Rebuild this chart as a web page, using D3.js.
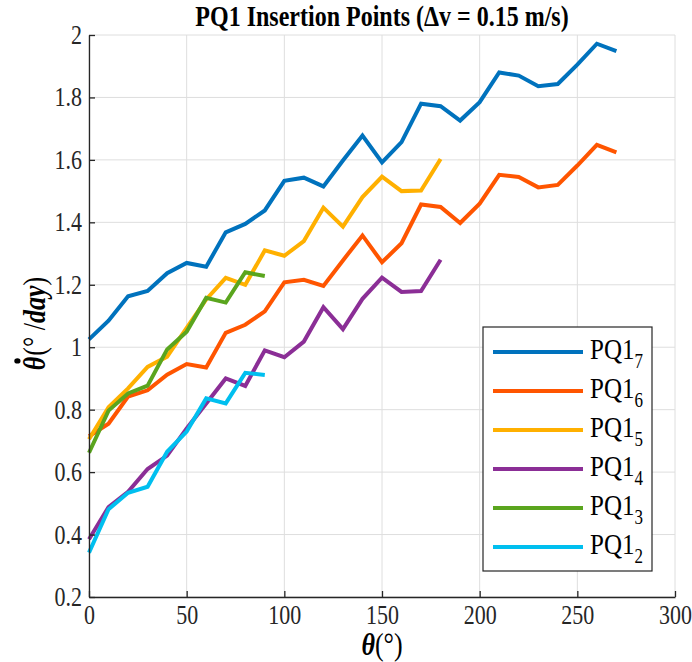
<!DOCTYPE html>
<html><head><meta charset="utf-8">
<script src="https://cdn.jsdelivr.net/npm/d3@7"></script>
<style>body{margin:0;background:#fff} svg{display:block}</style>
</head><body><svg id="chart" width="692" height="662"></svg>
<script>
// ---- data ----
const anglesLong  = [0,10,20,30,40,50,60,70,80,90,100,110,120,130,140,150,160,170,180,190,200,210,220,230,240,250,260,270];
const anglesMid   = [0,10,20,30,40,50,60,70,80,90,100,110,120,130,140,150,160,170,180];
const anglesShort = [0,10,20,30,40,50,60,70,80,90];

const pq1_7 = [1.025,1.085,1.163,1.18,1.237,1.27,1.258,1.368,1.395,1.438,1.533,1.543,1.515,1.598,1.678,1.592,1.657,1.78,1.772,1.726,1.785,1.88,1.87,1.836,1.843,1.905,1.972,1.948];
const pq1_6 = [0.715,0.755,0.842,0.862,0.912,0.946,0.935,1.046,1.072,1.115,1.208,1.216,1.196,1.278,1.358,1.272,1.333,1.457,1.449,1.398,1.46,1.552,1.545,1.512,1.52,1.582,1.648,1.624];
const pq1_5 = [0.705,0.808,0.868,0.937,0.97,1.062,1.153,1.222,1.2,1.31,1.293,1.34,1.447,1.386,1.481,1.546,1.5,1.502,1.603];
const pq1_4 = [0.385,0.488,0.537,0.61,0.653,0.74,0.82,0.9,0.876,0.99,0.968,1.018,1.128,1.058,1.155,1.223,1.177,1.18,1.28];
const pq1_3 = [0.662,0.797,0.852,0.877,0.993,1.05,1.158,1.143,1.24,1.228];
const pq1_2 = [0.342,0.481,0.534,0.553,0.665,0.73,0.836,0.82,0.918,0.911];

const seriesNames = ["7","6","5","4","3","2"];
const seriesColors = ["#0072BD","#FF5500","#FFB000","#8B2E96","#5AA51E","#00BFEF"];
const xTicks = [0,50,100,150,200,250,300];
const yTicks = [0.2,0.4,0.6,0.8,1,1.2,1.4,1.6,1.8,2];
const titleText = "PQ1 Insertion Points (\u0394v = 0.15 m/s)";

// ---- layout ----
const FONT = "'Liberation Serif','Times New Roman',serif";
const SY = 1.2;
const L = 89, R = 675, T = 35, B = 597;
const svg = d3.select("#chart");
const x = d3.scaleLinear().domain([0,300]).range([L,R]);
const y = d3.scaleLinear().domain([0.2,2]).range([B,T]);

const series = [
  {name: seriesNames[0], xs: anglesLong,  ys: pq1_7, color: seriesColors[0]},
  {name: seriesNames[1], xs: anglesLong,  ys: pq1_6, color: seriesColors[1]},
  {name: seriesNames[2], xs: anglesMid,   ys: pq1_5, color: seriesColors[2]},
  {name: seriesNames[3], xs: anglesMid,   ys: pq1_4, color: seriesColors[3]},
  {name: seriesNames[4], xs: anglesShort, ys: pq1_3, color: seriesColors[4]},
  {name: seriesNames[5], xs: anglesShort, ys: pq1_2, color: seriesColors[5]},
];

// grid
const grid = svg.append("g").attr("stroke","#dedede").attr("stroke-width",1);
grid.selectAll(".gx").data(xTicks).join("line")
  .attr("x1",d=>x(d)).attr("x2",d=>x(d)).attr("y1",T).attr("y2",B);
grid.selectAll(".gy").data(yTicks).join("line")
  .attr("y1",d=>y(d)).attr("y2",d=>y(d)).attr("x1",L).attr("x2",R);

// lines
const line = d3.line().x(d=>x(d[0])).y(d=>y(d[1]));
svg.append("g").selectAll("path").data(series).join("path")
  .attr("d", s => line(s.xs.map((a,i)=>[a,s.ys[i]])))
  .attr("fill","none").attr("stroke",s=>s.color)
  .attr("stroke-width",4).attr("stroke-linejoin","miter").attr("stroke-linecap","butt");

// axes
const TS = 22;
const xAxis = svg.append("g").attr("transform",`translate(0,${B})`)
  .call(d3.axisBottom(x).tickValues(xTicks).tickSize(-6).tickSizeOuter(0).tickPadding(8).tickFormat(d3.format("d")));
const yAxis = svg.append("g").attr("transform",`translate(${L},0)`)
  .call(d3.axisLeft(y).tickValues(yTicks).tickSize(-6).tickSizeOuter(0).tickPadding(7).tickFormat(d=>String(+d.toFixed(1))));
[xAxis,yAxis].forEach(g=>{
  g.select(".domain").attr("stroke","#262626").attr("stroke-width",1.3);
  g.selectAll(".tick line").attr("stroke","#262626").attr("stroke-width",1.3);
  g.selectAll(".tick text").attr("fill","#262626").style("font-family",FONT).style("font-size",TS+"px");
});
xAxis.selectAll(".tick text").attr("y", 8/SY).attr("transform",`scale(1,${SY})`);
yAxis.selectAll(".tick text").attr("transform",`scale(1,${SY})`);

function stretchedText(px, py){
  return svg.append("g").attr("transform",`translate(${px},${py}) scale(1,${SY})`)
    .append("text").style("font-family",FONT).attr("fill","#000");
}

// title
stretchedText((L+R)/2, 26).attr("text-anchor","middle").style("font-size","24px").style("font-weight","bold")
  .text(titleText);

// x label
const xl = stretchedText((L+R)/2, 655).attr("text-anchor","middle").style("font-size","26px");
xl.append("tspan").style("font-style","italic").style("font-weight","bold").text("\u03B8");
xl.append("tspan").text("(\u00B0)");

// y label (rotated), built from two pieces so the dot can sit over theta
const ylG = svg.append("g").attr("transform",`translate(45,324) scale(${SY},1) rotate(-90)`);
const thetaT = ylG.append("text").style("font-family",FONT).style("font-size","26px")
  .style("font-style","italic").style("font-weight","bold").text("\u03B8");
const restT = ylG.append("text").style("font-family",FONT).style("font-size","26px");
restT.append("tspan").text("(\u00B0 /");
restT.append("tspan").style("font-style","italic").style("font-weight","bold").text("day");
restT.append("tspan").text(")");
const w1 = thetaT.node().getComputedTextLength();
const w2 = restT.node().getComputedTextLength();
const x0 = -(w1+w2)/2;
thetaT.attr("x", x0);
restT.attr("x", x0 + w1 + 1);
ylG.append("circle").attr("cx", x0 + w1/2 + 2.5).attr("cy", -23).attr("r", 2.6).attr("fill","#000");

// legend
const LG = {x0:483, y0:327, x1:652, y1:571};
svg.append("rect").attr("x",LG.x0).attr("y",LG.y0).attr("width",LG.x1-LG.x0).attr("height",LG.y1-LG.y0)
  .attr("fill","#fff").attr("stroke","#262626").attr("stroke-width",1.2);
const rowY = d3.scalePoint().domain(seriesNames).range([352,547]);
series.forEach(s=>{
  const ry = rowY(s.name);
  svg.append("line").attr("x1",493).attr("x2",583).attr("y1",ry).attr("y2",ry)
    .attr("stroke",s.color).attr("stroke-width",4);
  const t = stretchedText(590, ry+7).style("font-size","25px");
  t.append("tspan").text("PQ1");
  t.append("tspan").attr("dy",9/SY).style("font-size","17px").text(s.name);
});
</script></body></html>
